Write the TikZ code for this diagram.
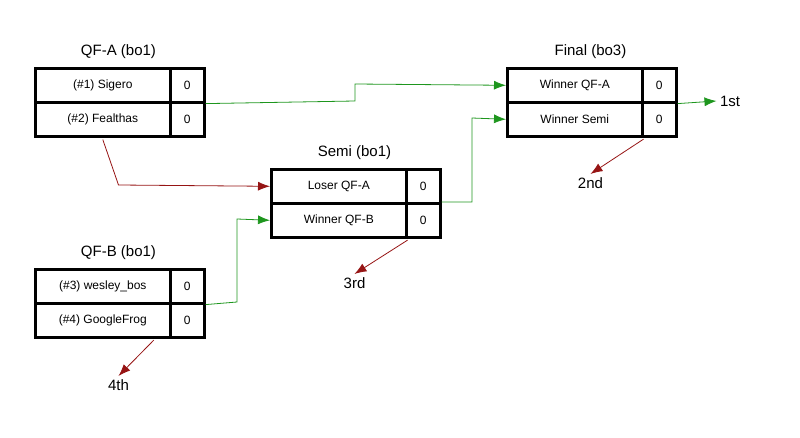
\documentclass[tikz,border=0pt]{standalone}
\usepackage{fontspec}
\setmainfont{Liberation Sans}
\usetikzlibrary{arrows.meta,positioning}
\definecolor{wingreen}{RGB}{30,150,30}
\definecolor{losered}{RGB}{150,20,20}
\tikzset{
  cell/.style={draw, line width=2.6pt, minimum height=34pt, inner sep=0pt,
    font=\fontsize{12}{14}\selectfont, anchor=north west},
  namecell/.style={cell, minimum width=135pt},
  scorecell/.style={cell, minimum width=34pt},
  title/.style={font=\fontsize{15}{18}\selectfont, anchor=south},
  place/.style={font=\fontsize{15}{18}\selectfont},
  win/.style={draw=wingreen, line width=0.8pt, -{Latex[length=12pt,width=9pt]}},
  lose/.style={draw=losered, line width=0.8pt, -{Latex[length=12pt,width=9pt]}}
}
\begin{document}
\begin{tikzpicture}[x=1pt,y=-1pt]
\useasboundingbox (0,0) rectangle (800,438);

% QF-A
\node [namecell] (qfa1) at (34,67) {(\#1) Sigero};
\node [scorecell] (qfa1s) at (169,67) {0};
\node [namecell] (qfa2) at (34,101) {(\#2) Fealthas};
\node [scorecell] (qfa2s) at (169,101) {0};
\node [title] at (118.5,62) {QF-A (bo1)};

% QF-B
\node [namecell] (qfb1) at (34,268) {(\#3) wesley\_bos};
\node [scorecell] (qfb1s) at (169,268) {0};
\node [namecell] (qfb2) at (34,302) {(\#4) GoogleFrog};
\node [scorecell] (qfb2s) at (169,302) {0};
\node [title] at (118.5,263) {QF-B (bo1)};

% Semi
\node [namecell] (semi1) at (270,168) {Loser QF-A};
\node [scorecell] (semi1s) at (405,168) {0};
\node [namecell] (semi2) at (270,202) {Winner QF-B};
\node [scorecell] (semi2s) at (405,202) {0};
\node [title] at (354.5,163) {Semi (bo1)};

% Final
\node [namecell] (fin1) at (506,67) {Winner QF-A};
\node [scorecell] (fin1s) at (641,67) {0};
\node [namecell] (fin2) at (506,101) {Winner Semi};
\node [scorecell] (fin2s) at (641,101) {0};
\node [title] at (590.5,62) {Final (bo3)};

% places
\node [place] (first) at (730,101) {1st};
\node [place] (second) at (590.5,183) {2nd};
\node [place] (third) at (354.5,283) {3rd};
\node [place] (fourth) at (118.5,385) {4th};

% connectors
\draw [win] (qfa1s.south east) -- (355,101) -- (355,84) -- (fin1.west);
\draw [lose] (qfa2.south east -| qfa1.south) ++(0,2) -- (118.5,185) -- (semi1.west);
\draw [win] (qfb1s.south east) -- (237,302) -- (237,219) -- (semi2.west);
\draw [win] (semi2s.north east) -- (472,202) -- (472,118) -- (fin2.west);
\draw [win] (fin1s.south east) -- (first.west);
\draw [lose] (fin2.south east) ++(0,1.5) -- (second.north);
\draw [lose] (semi2.south east) ++(0,1.5) -- (third.north);
\draw [lose] (qfb2.south) ++(51,1.5) -- (fourth.north);
\end{tikzpicture}
\end{document}
